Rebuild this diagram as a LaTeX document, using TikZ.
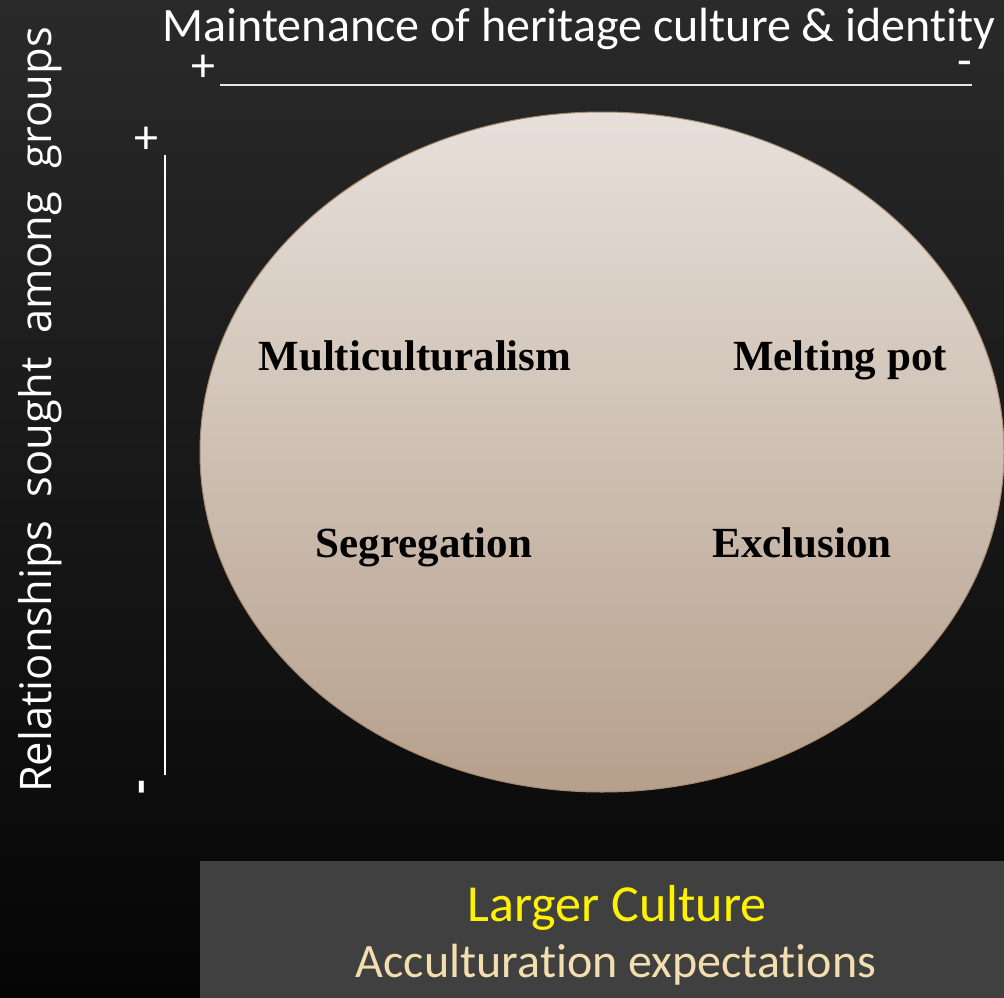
\documentclass[tikz,border=0pt]{standalone}
\usepackage{fontspec}
\setmainfont{Carlito}[Ligatures=NoCommon]
\newfontfamily\sidefont{Open Sans}[Ligatures=NoCommon]
\newfontfamily\labfont{Liberation Serif}
\definecolor{bgtop}{HTML}{2A2A2A}
\definecolor{bgbot}{HTML}{050505}
\definecolor{elltop}{HTML}{E7E0DA}
\definecolor{ellbot}{HTML}{B6A08C}
\definecolor{ellline}{HTML}{A88B6E}
\definecolor{boxgray}{HTML}{404040}
\definecolor{wheat}{HTML}{F2DEAE}
\definecolor{axisline}{HTML}{E6E6E6}
\tikzset{
  quadlabel/.style={font=\labfont\bfseries\fontsize{43}{50}\selectfont, text=black, anchor=base, inner sep=0pt},
  axistext/.style={font=\fontsize{48}{56}\selectfont, text=white, inner sep=0pt},
  axisrule/.style={draw=axisline, line width=2pt},
}
\begin{document}
\begin{tikzpicture}[x=1pt,y=-1pt]
\useasboundingbox (0,0) rectangle (1004,998);
% background
\shade[top color=bgtop, bottom color=bgbot] (0,0) rectangle (1004,998);
% ellipse
\shade[top color=elltop, bottom color=ellbot] (602,452) ellipse [x radius=402, y radius=340];
\draw[ellline, line width=1pt] (602,452) ellipse [x radius=402, y radius=340];
% title
\node[axistext, anchor=base] (title) at (579,42) {Maintenance of heritage culture \& identity};
\node[axistext, anchor=center] (hplus) at (203,68) {+};
\node[axistext, anchor=center] (hminus) at (965,69) {-};
\coordinate (hl) at (220,85);
\coordinate (hr) at (972,85);
\draw[axisrule] (hl) -- (hr);
% vertical axis
\node[font=\sidefont\fontsize{43.5}{50}\selectfont, text=white, inner sep=0pt, rotate=90, anchor=base] (vtitle) at (51,410)
  {Relationships\hspace*{24pt}sought\hspace*{24pt}among\hspace*{24pt}groups};
\node[axistext, anchor=center] (vplus) at (146,140) {+};
\node[axistext, anchor=center, rotate=90] (vminus) at (147,787) {\bfseries -};
\coordinate (vt) at (165,155);
\coordinate (vb) at (165,775);
\draw[axisrule, draw=white] (vt) -- (vb);
% quadrant labels
\node[quadlabel] (multi) at (415,370) {Multiculturalism};
\node[quadlabel] (melt) at (840,370) {Melting pot};
\node[quadlabel] (segr) at (424,557) {Segregation};
\node[quadlabel] (excl) at (802,557) {Exclusion};
% bottom box
\fill[boxgray] (200,861) rectangle (1004,998);
\node[font=\fontsize{52}{58}\selectfont, text=yellow, anchor=base, inner sep=0pt] (larger) at (617,921) {Larger Culture};
\node[font=\fontsize{48}{56}\selectfont, text=wheat, anchor=base, inner sep=0pt] (accult) at (616,977) {Acculturation expectations};
\end{tikzpicture}
\end{document}
